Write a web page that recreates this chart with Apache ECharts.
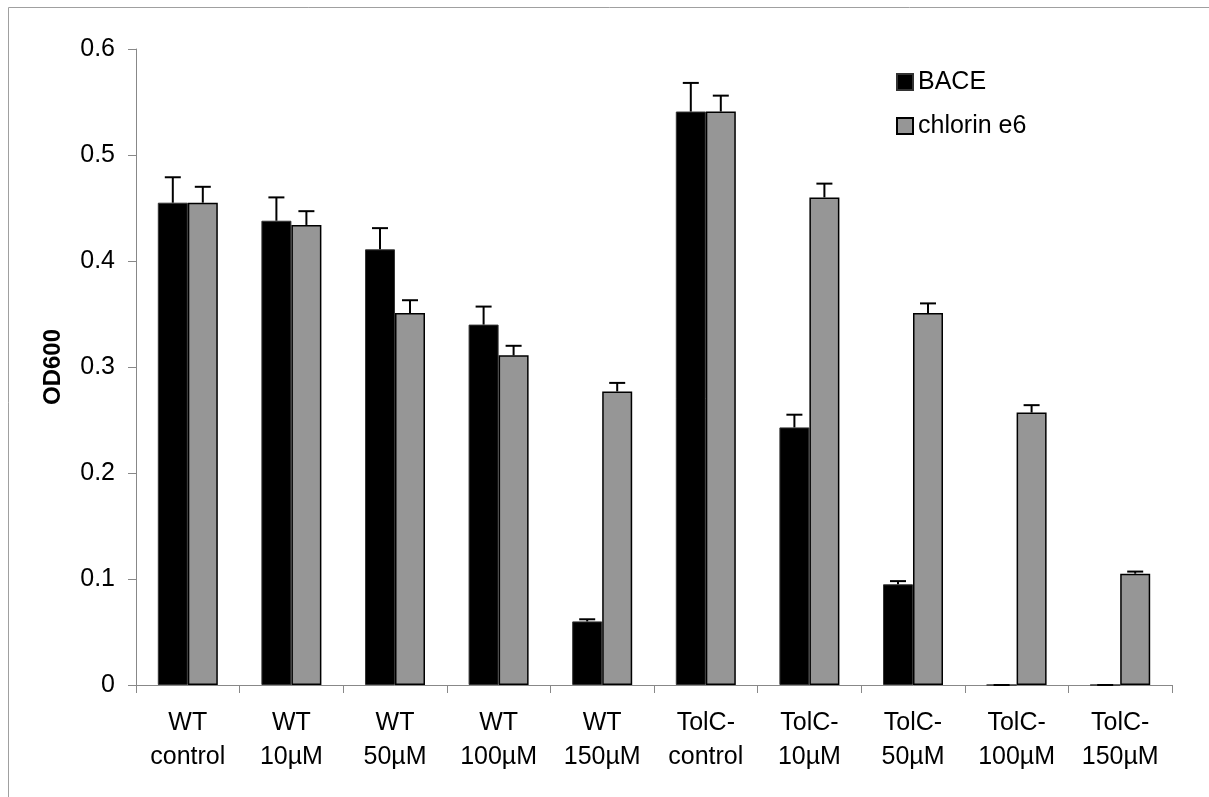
<!DOCTYPE html>
<html>
<head>
<meta charset="utf-8">
<script src="https://cdn.jsdelivr.net/npm/echarts@6/dist/echarts.min.js"></script>
<style>
html,body{margin:0;padding:0;background:#fff;}
#chart{width:1209px;height:797px;}
</style>
</head>
<body>
<div id="chart"></div>
<script>
const categories = ['WT\ncontrol','WT\n10µM','WT\n50µM','WT\n100µM','WT\n150µM','TolC-\ncontrol','TolC-\n10µM','TolC-\n50µM','TolC-\n100µM','TolC-\n150µM'];
const bace = [0.455, 0.438, 0.411, 0.340, 0.060, 0.541, 0.243, 0.095, 0, 0];
const baceErr = [0.024, 0.022, 0.020, 0.017, 0.002, 0.027, 0.012, 0.003, 0, 0];
const chlorin = [0.455, 0.434, 0.351, 0.311, 0.277, 0.541, 0.460, 0.351, 0.257, 0.105];
const chlorinErr = [0.015, 0.013, 0.012, 0.009, 0.008, 0.015, 0.013, 0.009, 0.007, 0.002];
const yTicks = [0, 0.1, 0.2, 0.3, 0.4, 0.5, 0.6];

const FONT = '"Liberation Sans", Arial, sans-serif';
const BAR_W = 30;

function errSeries(name, vals, errs, side) {
  return {
    type: 'custom',
    name: name + ' err',
    z: 5,
    data: vals.map((v, i) => [i, v, v + errs[i]]),
    renderItem: function (params, api) {
      const i = api.value(0);
      const base = api.coord([i, api.value(1)]);
      const top = api.coord([i, api.value(2)]);
      const x = base[0] + side * BAR_W / 2;
      const half = 8;
      const style = { stroke: '#000', lineWidth: 2 };
      return {
        type: 'group',
        children: [
          { type: 'line', shape: { x1: x, y1: base[1], x2: x, y2: top[1] }, style: style },
          { type: 'line', shape: { x1: x - half, y1: top[1], x2: x + half, y2: top[1] }, style: style }
        ]
      };
    }
  };
}

const chart = echarts.init(document.getElementById('chart'), null, { renderer: 'canvas' });
chart.setOption({
  backgroundColor: '#fff',
  animation: false,
  textStyle: { fontFamily: FONT },
  graphic: [{
    type: 'rect', shape: { x: 8.5, y: 7.5, width: 1300, height: 1000 },
    style: { fill: 'none', stroke: '#a0a0a0', lineWidth: 1 }, silent: true
  }],
  grid: { left: 136, right: 37, top: 49, bottom: 112, containLabel: false },
  legend: {
    orient: 'vertical', left: 891, top: 64,
    data: ['BACE', 'chlorin e6'],
    icon: 'rect',
    itemWidth: 16, itemHeight: 16, itemGap: 18,
    textStyle: { fontFamily: FONT, fontSize: 25, color: '#000', lineHeight: 26 }
  },
  xAxis: {
    type: 'category', data: categories,
    axisLine: { lineStyle: { color: '#888', width: 1 } },
    axisTick: { show: true, alignWithLabel: false, length: 8, lineStyle: { color: '#888' } },
    axisLabel: { fontFamily: FONT, fontSize: 25, color: '#000', lineHeight: 34, margin: 21, interval: 0 }
  },
  yAxis: {
    type: 'value', min: 0, max: 0.6, interval: 0.1,
    name: 'OD600', nameLocation: 'middle', nameGap: 71, nameRotate: 90,
    nameTextStyle: { fontFamily: FONT, fontSize: 24, fontWeight: 'bold', color: '#000' },
    splitLine: { show: false },
    axisLine: { show: true, lineStyle: { color: '#888', width: 1 } },
    axisTick: { show: true, length: 8, lineStyle: { color: '#888' } },
    axisLabel: { fontFamily: FONT, fontSize: 25, color: '#000', margin: 21,
      formatter: v => (v === 0 ? '0' : v.toFixed(1)) }
  },
  series: [
    { type: 'bar', name: 'BACE', data: bace, barWidth: BAR_W, barGap: '0%',
      itemStyle: { color: '#000', borderColor: '#333', borderWidth: 1 } },
    { type: 'bar', name: 'chlorin e6', data: chlorin, barWidth: BAR_W, barGap: '0%',
      itemStyle: { color: '#969696', borderColor: '#000', borderWidth: 1.5 } },
    errSeries('BACE', bace, baceErr, -1),
    errSeries('chlorin e6', chlorin, chlorinErr, 1)
  ]
});
</script>
</body>
</html>
